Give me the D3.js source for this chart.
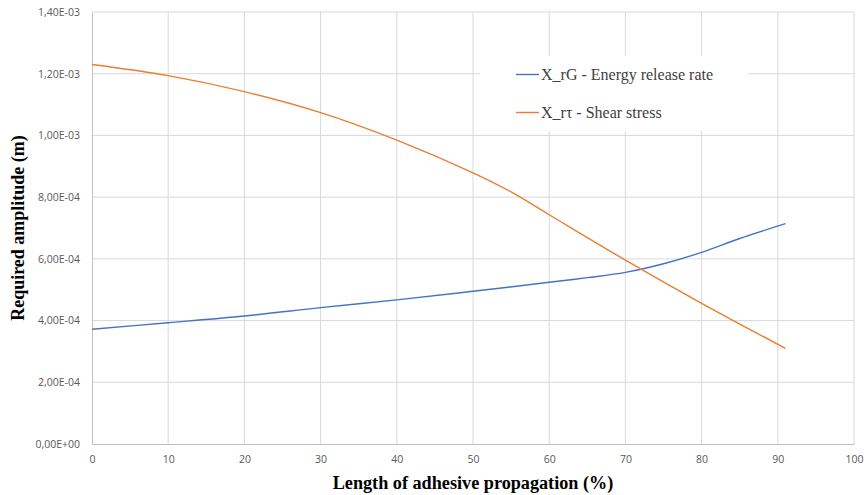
<!DOCTYPE html>
<html>
<head>
<meta charset="utf-8">
<script src="https://cdn.jsdelivr.net/npm/d3@7"></script>
<style>
  body { margin: 0; background: #fff; }
</style>
</head>
<body>
<script>
// Values (x in %, y in m)
var xG = [0, 10, 20, 30, 40, 50, 60, 65, 70, 75, 80, 85, 91];
var yG = [3.72e-4, 3.93e-4, 4.15e-4, 4.42e-4, 4.67e-4, 4.95e-4, 5.24e-4, 5.39e-4, 5.56e-4, 5.84e-4, 6.21e-4, 6.66e-4, 7.14e-4];

var xT = [0, 10, 20, 30, 40, 50, 55, 60, 70, 80, 91];
var yT = [1.230e-3, 1.194e-3, 1.142e-3, 1.074e-3, 9.85e-4, 8.79e-4, 8.17e-4, 7.43e-4, 5.96e-4, 4.56e-4, 3.10e-4];

var xTicks = [0, 10, 20, 30, 40, 50, 60, 70, 80, 90, 100];
var yTicks = [0, 2e-4, 4e-4, 6e-4, 8e-4, 1e-3, 1.2e-3, 1.4e-3];

var seriesNames = ["X_rG - Energy release rate", "X_r\u03c4 - Shear stress"];
var seriesColors = ["#4472C4", "#ED7D31"];

function generateViz() {
	var width = 866,
		height = 495;
	var margin = {left: 92, right: 12, top: 12, bottom: 51};

	var svg = d3.select("body")
				.append("svg")
				.attr("width", width)
				.attr("height", height);

	var x = d3.scaleLinear().domain([0, 100]).range([margin.left, width - margin.right]);
	var y = d3.scaleLinear().domain([0, 1.4e-3]).range([height - margin.bottom, margin.top]);

	// Excel style "1,40E-03"
	var sci = function(v) {
		if (v === 0) return "0,00E+00";
		var e = Math.floor(Math.log10(v) + 1e-9);
		var m = v / Math.pow(10, e);
		var es = (e < 0 ? "-" : "+") + (Math.abs(e) < 10 ? "0" : "") + Math.abs(e);
		return m.toFixed(2).replace(".", ",") + "E" + es;
	};

	// gridlines
	svg.append("g")
		.selectAll("line.h")
		.data(yTicks.slice(1))
		.enter().append("line")
		.attr("x1", x(0)).attr("x2", x(100))
		.attr("y1", function(d) { return y(d); })
		.attr("y2", function(d) { return y(d); })
		.attr("stroke", "#d9d9d9");

	svg.append("g")
		.selectAll("line.v")
		.data(xTicks.slice(1))
		.enter().append("line")
		.attr("y1", y(0)).attr("y2", y(1.4e-3))
		.attr("x1", function(d) { return x(d); })
		.attr("x2", function(d) { return x(d); })
		.attr("stroke", "#d9d9d9");

	// axes
	var xAxis = svg.append("g")
		.attr("transform", "translate(0," + y(0) + ")")
		.call(d3.axisBottom(x).tickValues(xTicks).tickSize(0).tickPadding(12));
	xAxis.select(".domain").attr("stroke", "#bfbfbf");

	var yAxis = svg.append("g")
		.attr("transform", "translate(" + x(0) + ",0)")
		.call(d3.axisLeft(y).tickValues(yTicks).tickFormat(sci).tickSize(0).tickPadding(12));
	yAxis.select(".domain").attr("stroke", "#bfbfbf");

	svg.selectAll(".tick text")
		.attr("font-family", "'Open Sans', 'Liberation Sans', sans-serif")
		.attr("font-size", 10.5)
		.attr("fill", "#595959");

	// lines (smoothed, like Excel)
	var line = d3.line()
		.x(function(d) { return x(d[0]); })
		.y(function(d) { return y(d[1]); })
		.curve(d3.curveCatmullRom.alpha(0.5));

	var series = [d3.zip(xG, yG), d3.zip(xT, yT)];
	svg.selectAll("path.series")
		.data(series)
		.enter().append("path")
		.attr("class", "series")
		.attr("d", line)
		.attr("fill", "none")
		.attr("stroke-width", 1.4)
		.attr("stroke", function(d, i) { return seriesColors[i]; });

	// legend
	var legend = svg.append("g");
	legend.append("rect")
		.attr("x", 480).attr("y", 56)
		.attr("width", 268).attr("height", 75)
		.attr("fill", "#fff");
	var items = legend.selectAll("g.item")
		.data(seriesNames)
		.enter().append("g")
		.attr("transform", function(d, i) { return "translate(516," + (74.5 + i * 38) + ")"; });
	items.append("line")
		.attr("x1", 0).attr("x2", 23)
		.attr("stroke-width", 1.4)
		.attr("stroke", function(d, i) { return seriesColors[i]; });
	items.append("text")
		.attr("x", 25).attr("y", 5)
		.attr("font-family", "'Liberation Serif', serif")
		.attr("font-size", 16)
		.attr("fill", "#404040")
		.text(function(d) { return d; });

	// axis titles
	svg.append("text")
		.attr("x", (x(0) + x(100)) / 2)
		.attr("y", 489)
		.attr("text-anchor", "middle")
		.attr("font-family", "'Liberation Serif', serif")
		.attr("font-weight", "bold")
		.attr("font-size", 18.2)
		.text("Length of adhesive propagation (%)");

	svg.append("text")
		.attr("transform", "translate(24," + (y(0) + y(1.4e-3)) / 2 + ") rotate(-90)")
		.attr("text-anchor", "middle")
		.attr("font-family", "'Liberation Serif', serif")
		.attr("font-weight", "bold")
		.attr("font-size", 18)
		.text("Required amplitude (m)");
} // generateViz()

generateViz();
</script>
</body>
</html>
